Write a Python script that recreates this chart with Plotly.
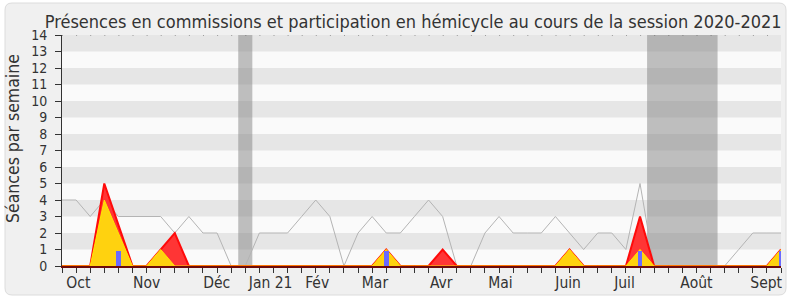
import plotly.graph_objects as go

# ---------------- data ----------------
weeks = list(range(52))
median_line = [4, 4, 3, 4, 3, 3, 3, 3, 2, 3, 2, 2, 0, 0, 2, 2, 2, 3, 4, 3,
               0, 2, 3, 2, 2, 3, 4, 3, 0, 0, 2, 3, 2, 2, 2, 3, 2, 1, 2, 2,
               1, 5, 0, 0, 0, 0, 0, 0, 1, 2, 2, 2]
hemicycle = [0, 0, 0, 5, 2.5, 0, 0, 1, 2, 0, 0, 0, 0, 0, 0, 0, 0, 0, 0, 0,
             0, 0, 0, 1, 0, 0, 0, 1, 0, 0, 0, 0, 0, 0, 0, 0, 1, 0, 0, 0,
             0, 3, 0, 0, 0, 0, 0, 0, 0, 0, 0, 1]
commission = [0, 0, 0, 4, 2, 0, 0, 1, 0, 0, 0, 0, 0, 0, 0, 0, 0, 0, 0, 0,
              0, 0, 0, 1, 0, 0, 0, 0, 0, 0, 0, 0, 0, 0, 0, 0, 1, 0, 0, 0,
              0, 1, 0, 0, 0, 0, 0, 0, 0, 0, 0, 1]
interventions = [0, 0, 0, 0, 0.9, 0, 0, 0, 0, 0, 0, 0, 0, 0, 0, 0, 0, 0, 0, 0,
                 0, 0, 0, 0.9, 0, 0, 0, 0, 0, 0, 0, 0, 0, 0, 0, 0, 0, 0, 0, 0,
                 0, 0.9, 0, 0, 0, 0, 0, 0, 0, 0, 0, 0.9]
vacances = [[13, 13], [42, 46]]          # weeks of parliamentary recess
month_labels = ["Oct", "Nov", "Déc", "Jan 21", "Fév", "Mar", "Avr", "Mai",
                "Juin", "Juil", "Août", "Sept"]
month_ticks = [1.16, 6.0, 10.97, 14.8, 18.1, 22.2, 26.9, 31.1, 35.9, 39.9, 45.0, 49.95]
y_ticks = list(range(15))

FONT = "DejaVu Sans Condensed, DejaVu Sans, sans-serif"
TICKFONT = "Liberation Sans Narrow, DejaVu Sans Condensed, sans-serif"
TXT = "#333333"

W, H = 790, 300
L, R, T, B = 62, 9, 35, 34

fig = go.Figure()

fig.add_trace(go.Scatter(x=weeks, y=median_line, mode="lines",
                         line=dict(color="#b4b4b4", width=1), hoverinfo="skip"))
fig.add_trace(go.Scatter(x=weeks, y=hemicycle, mode="lines", fill="tozeroy",
                         fillcolor="#ff3535", line=dict(color="#ff0a0a", width=2),
                         hoverinfo="skip"))
fig.add_trace(go.Scatter(x=weeks, y=commission, mode="lines", fill="tozeroy",
                         fillcolor="#ffd20f", line=dict(color="#ffe600", width=1),
                         hoverinfo="skip"))
# bars on the overlaying axis so they are drawn above the filled areas
fig.add_trace(go.Bar(x=weeks, y=interventions, width=0.33, xaxis="x2",
                     marker=dict(color="#6a6aff", line=dict(width=0)), hoverinfo="skip"))

shapes = []
# outer rounded frame (paper coords)
def px2x(px):
    return (px - L) / (W - L - R)
def py2y(py):
    return (H - B - py) / (H - T - B)
x0, x1, y0, y1, r = 5, 786, 3, 295, 7
path = (f"M {px2x(x0 + r)},{py2y(y0)} L {px2x(x1 - r)},{py2y(y0)} "
        f"Q {px2x(x1)},{py2y(y0)} {px2x(x1)},{py2y(y0 + r)} "
        f"L {px2x(x1)},{py2y(y1 - r)} Q {px2x(x1)},{py2y(y1)} {px2x(x1 - r)},{py2y(y1)} "
        f"L {px2x(x0 + r)},{py2y(y1)} Q {px2x(x0)},{py2y(y1)} {px2x(x0)},{py2y(y1 - r)} "
        f"L {px2x(x0)},{py2y(y0 + r)} Q {px2x(x0)},{py2y(y0)} {px2x(x0 + r)},{py2y(y0)} Z")
shapes.append(dict(type="path", xref="paper", yref="paper", path=path,
                   fillcolor="#f0f0f0", line=dict(color="#dcdcdc", width=1), layer="below"))
# plot area + stripes
shapes.append(dict(type="rect", xref="x", yref="y", x0=0, x1=51, y0=0, y1=14,
                   fillcolor="#fafafa", line=dict(width=0), layer="below"))
for k in range(1, 14, 2):
    shapes.append(dict(type="rect", xref="x", yref="y", x0=0, x1=51, y0=k, y1=k + 1,
                       fillcolor="#e6e6e6", line=dict(width=0), layer="below"))
for a, b in vacances:
    shapes.append(dict(type="rect", xref="x", yref="y", x0=a - 0.5, x1=b + 0.5, y0=0, y1=14,
                       fillcolor="rgba(125,125,125,0.48)", line=dict(width=0), layer="below"))
# dotted top line
shapes.append(dict(type="line", xref="x", yref="y", x0=0, x1=51, y0=14, y1=14,
                   line=dict(color="#555555", width=1, dash="1px,13.1px"), layer="above"))

fig.update_layout(
    width=W, height=H,
    margin=dict(l=L, r=R, t=T, b=B, pad=0, autoexpand=False),
    paper_bgcolor="white", plot_bgcolor="#fafafa",
    showlegend=False, bargap=0,
    font=dict(family=FONT, color=TXT, size=14),
    title=dict(text="Présences en commissions et participation en hémicycle au cours de la session 2020-2021",
               x=0.523, xanchor="center", y=0.928, yanchor="middle",
               font=dict(family=FONT, size=18, color=TXT)),
    shapes=shapes,
    annotations=[dict(text="Séances par semaine", textangle=-90, showarrow=False,
                      xref="paper", yref="paper", x=px2x(13), y=py2y(139),
                      xanchor="center", yanchor="middle",
                      font=dict(size=17.5, color=TXT, family=FONT))],
    xaxis=dict(range=[0, 51], tickvals=weeks, ticktext=[""] * len(weeks),
               ticks="outside", ticklen=5, tickcolor="#333333", tickwidth=1,
               showgrid=False, zeroline=False, showline=True, linecolor="#6e0a0a",
               linewidth=2, fixedrange=True, automargin=False),
    xaxis2=dict(range=[0, 51], overlaying="x", side="bottom", tickvals=month_ticks,
                ticktext=month_labels, ticks="outside", ticklen=2,
                tickcolor="rgba(0,0,0,0)", showgrid=False, zeroline=False,
                showline=False, automargin=False,
                tickfont=dict(size=15.5, color=TXT, family=FONT)),
    yaxis=dict(range=[0, 14], tickvals=y_ticks, ticks="outside", ticklen=6,
               tickcolor="#333333", showgrid=False, zeroline=False, showline=True,
               linecolor="#333333", linewidth=1, ticklabelstandoff=5, automargin=False,
               tickfont=dict(size=14, color=TXT, family=TICKFONT)),
)

fig.write_html("out.html")
